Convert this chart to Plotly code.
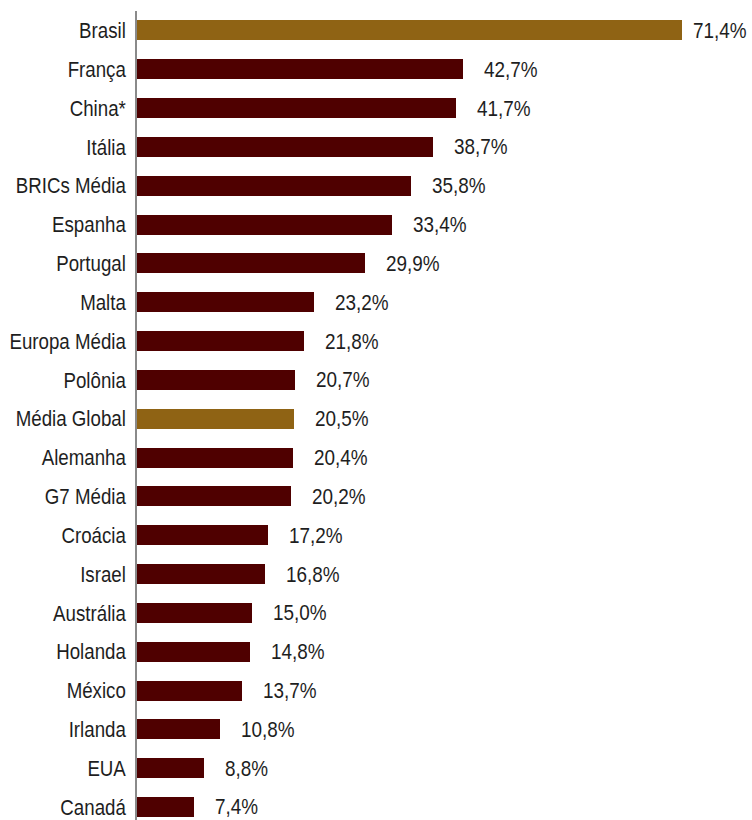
import plotly.graph_objects as go

# Categories listed top to bottom
categories = [
    "Brasil", "França", "China*", "Itália", "BRICs Média", "Espanha", "Portugal",
    "Malta", "Europa Média", "Polônia", "Média Global", "Alemanha", "G7 Média",
    "Croácia", "Israel", "Austrália", "Holanda", "México", "Irlanda", "EUA", "Canadá",
]
values = [
    71.4, 42.7, 41.7, 38.7, 35.8, 33.4, 29.9,
    23.2, 21.8, 20.7, 20.5, 20.4, 20.2,
    17.2, 16.8, 15.0, 14.8, 13.7, 10.8, 8.8, 7.4,
]
highlight = ["Brasil", "Média Global"]

GOLD = "#8f6314"
DARK = "#4f0000"
FONT = "Liberation Sans, Arial, sans-serif"
TEXT_COLOR = "#1e1e1e"

n = len(categories)
ypos = [n - 1 - i for i in range(n)]
colors = [GOLD if c in highlight else DARK for c in categories]
labels = [f"{v:.1f}%".replace(".", ",") for v in values]

fig = go.Figure(
    go.Bar(
        x=values,
        y=ypos,
        orientation="h",
        marker=dict(color=colors, line=dict(width=0)),
        width=0.515,
        hoverinfo="skip",
    )
)

# value labels to the right of each bar (the longest one is pulled in to fit)
for v, y, lab in zip(values, ypos, labels):
    fig.add_annotation(
        x=v, y=y, text=lab, showarrow=False,
        xanchor="left", yanchor="middle", align="left",
        xshift=9 if v > 60 else 19,
        font=dict(family=FONT, size=22, color=TEXT_COLOR),
    )

fig.update_layout(
    width=752, height=820,
    margin=dict(l=137, r=0, t=11, b=0),
    paper_bgcolor="white", plot_bgcolor="white",
    showlegend=False,
    bargap=0,
)
fig.update_xaxes(range=[0, 80.5], visible=False, fixedrange=True)
fig.update_yaxes(
    range=[-0.335, 20.5],
    tickmode="array", tickvals=ypos, ticktext=categories,
    showgrid=False, zeroline=False,
    showline=True, linecolor="#8a8a8a", linewidth=1.5,
    ticks="", ticklabelstandoff=5, automargin=False,
    tickfont=dict(family=FONT, size=22, color=TEXT_COLOR),
    fixedrange=True,
)

# condense the lettering horizontally, keeping each text's anchor point fixed
condense = """
var gd = document.getElementById('{plot_id}');
function squeeze(sel, sx) {
  gd.querySelectorAll(sel).forEach(function (t) {
    var ax = parseFloat(t.getAttribute('x')) || 0;
    var tr = t.getAttribute('transform') || '';
    t.setAttribute('transform', tr + ' translate(' + ax + ',0) scale(' + sx + ',1) translate(' + (-ax) + ',0)');
  });
}
squeeze('.ytick text', 0.85);
squeeze('text.annotation-text', 0.86);
"""

fig.write_html("out.html", post_script=condense)
